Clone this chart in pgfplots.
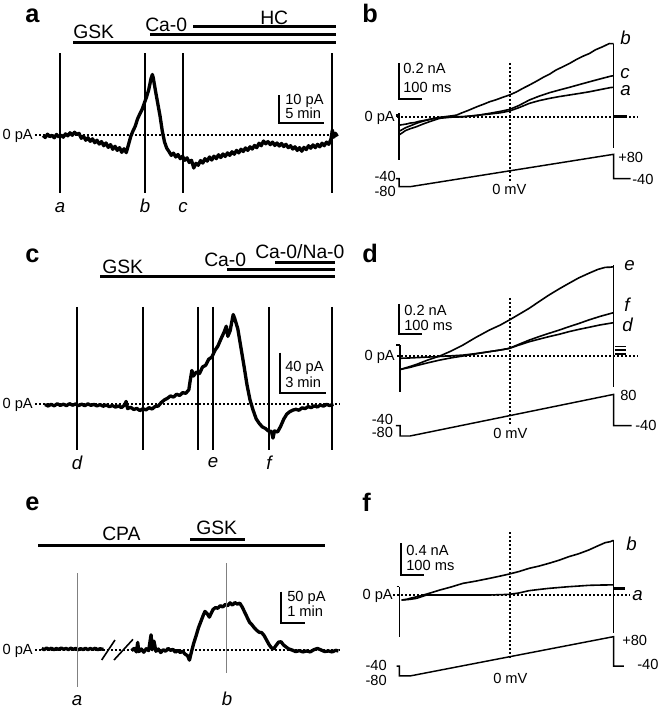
\documentclass[border=0pt]{standalone}
\usepackage{fontspec}
\setmainfont{Liberation Sans}
\usepackage{pgfplots}
\pgfplotsset{compat=1.18}

\pgfplotsset{
  panel/.style={anchor=south west, axis lines=none, ticks=none, clip=false},
  ctrace/.style={black, line width=2.5pt, line join=round},
  ivtrace/.style={black, line width=1.2pt, line join=round},
  zeroline/.style={black, line width=1.5pt, dash pattern=on 1.5pt off 1.5pt},
  tmark/.style={black, line width=1pt},
  sbar/.style={black, line width=1.5pt, line join=miter},
  vprot/.style={black, line width=1.1pt, line join=miter},
}
\newcommand\lab{\fontsize{11}{13}\selectfont}
\newcommand\drug{\fontsize{14.5}{17}\selectfont}
\newcommand\pan{\fontsize{19}{22}\selectfont\bfseries}
\newcommand\tp{\fontsize{14}{16}\selectfont\itshape}

\begin{document}
\begin{tikzpicture}[x=0.75pt, y=-0.75pt]
\useasboundingbox (0,0) rectangle (660,709);

% ================= panel a : time course (min, pA)
\begin{axis}[panel, at={(25.5pt,-146.625pt)}, x=6.75pt, y=2.0625pt,
  xmin=-1, xmax=33, ymin=-22, ymax=30]
\addplot[zeroline] coordinates {(-0.89,0) (32.78,0)};
\addplot[ctrace] coordinates {
 (0.00,-0.2) (0.25,-0.9) (0.50,0.3) (0.75,-0.6) (1.00,-0.1) (1.25,-1.0) (1.50,0.2) (1.75,-0.7)
 (2.00,0.0) (2.25,-0.8) (2.50,0.4) (2.75,-0.3) (3.00,0.8) (3.25,-0.1) (3.50,1.0) (3.75,0.2)
 (4.00,0.6) (4.25,-1.2) (4.50,-0.4) (4.75,-1.9) (5.00,-1.0) (5.25,-2.3) (5.50,-1.4) (5.75,-2.8)
 (6.00,-1.9) (6.25,-3.3) (6.50,-2.4) (6.75,-3.9) (7.00,-2.9) (7.25,-4.5) (7.50,-3.5) (7.75,-5.2)
 (8.00,-4.1) (8.25,-5.6) (8.50,-4.6) (8.75,-6.3) (9.00,-5.0) (9.25,-6.4) (9.50,-3.5) (9.75,-0.5)
 (10.00,1.5) (10.25,3.2) (10.50,5.8) (10.75,7.6) (11.00,9.2) (11.25,11.5) (11.50,13.8) (11.75,16.5)
 (12.00,20.5) (12.15,22.0) (12.25,20.8) (12.50,16.0) (12.75,11.5) (13.00,7.0) (13.25,1.5) (13.50,-2.5)
 (13.75,-4.8) (14.00,-6.0) (14.25,-7.4) (14.50,-6.6) (14.75,-8.0) (15.00,-7.1) (15.25,-8.6) (15.50,-7.7)
 (15.75,-9.2) (16.00,-8.3) (16.25,-10.0) (16.50,-9.2) (16.75,-12.0) (17.00,-10.3) (17.25,-11.0) (17.50,-9.3)
 (17.75,-10.2) (18.00,-8.6) (18.25,-9.5) (18.50,-8.0) (18.75,-9.1) (19.00,-7.7) (19.25,-8.6) (19.50,-7.2)
 (19.75,-8.2) (20.00,-6.9) (20.25,-7.8) (20.50,-6.5) (20.75,-7.4) (21.00,-6.1) (21.25,-7.0) (21.50,-5.6)
 (21.75,-6.5) (22.00,-5.2) (22.25,-6.0) (22.50,-4.7) (22.75,-5.6) (23.00,-4.3) (23.25,-5.1) (23.50,-3.8)
 (23.75,-4.6) (24.00,-3.0) (24.25,-3.9) (24.50,-2.2) (24.75,-3.2) (25.00,-2.4) (25.25,-3.5) (25.50,-2.6)
 (25.75,-3.8) (26.00,-2.9) (26.25,-4.0) (26.50,-3.1) (26.75,-4.2) (27.00,-3.4) (27.25,-4.6) (27.50,-3.9)
 (27.75,-5.1) (28.00,-4.3) (28.25,-5.6) (28.50,-4.6) (28.75,-5.9) (29.00,-4.5) (29.25,-5.3) (29.50,-3.9)
 (29.75,-4.8) (30.00,-3.6) (30.25,-4.6) (30.50,-3.4) (30.75,-4.3) (31.00,-3.0) (31.25,-3.9) (31.50,-2.6)
 (31.75,-3.4) (32.00,-1.5) (32.15,1.8) (32.30,-0.8) (32.50,0.6) (32.70,-0.5)
};
\addplot[tmark] coordinates {(1.89,29.8) (1.89,-21.1)};
\addplot[tmark] coordinates {(11.33,29.8) (11.33,-21.1)};
\addplot[tmark] coordinates {(15.56,29.8) (15.56,-21.1)};
\addplot[tmark] coordinates {(32.11,29.8) (32.11,-21.1)};
\addplot[sbar] coordinates {(26.26,14.5) (26.26,4.5) (31.26,4.5)};
\end{axis}

% ================= panel b : ramp currents (ms, pA)
\begin{axis}[panel, at={(295.6275pt,-136.92pt)}, x=0.16965pt, y=0.1335pt,
  xmin=-70, xmax=1010, ymin=-370, ymax=420]
\addplot[zeroline] coordinates {(-57,0) (1008,0)};
\addplot[zeroline] coordinates {(442,302) (442,-367)};
\addplot[ivtrace] coordinates {(-45,-47) (-30,-44) (-15,-41) (0,-36) (20,-33) (40,-26) (59,-22) (80,-16)
 (100,-11) (132,-4) (160,1) (185,5) (206,9) (230,22) (255,34) (279,47) (300,58) (325,70) (352,84)
 (380,95) (410,109) (440,122) (470,139) (500,160) (528,178) (560,200) (590,222) (617,239) (645,262)
 (675,280) (705,299) (735,321) (765,340) (793,355) (820,376) (850,392) (881,411) (900,410)};
\addplot[ivtrace] coordinates {(-45,-80) (-20,-62) (0,-52) (29,-37) (60,-24) (100,-12) (132,-4) (180,-1)
 (235,0) (290,6) (352,19) (400,30) (440,41) (480,62) (528,94) (570,115) (617,135) (660,150)
 (705,165) (750,181) (793,196) (840,212) (888,228) (900,230)};
\addplot[ivtrace] coordinates {(-45,-100) (-20,-78) (0,-68) (29,-56) (60,-40) (100,-22) (132,-9) (180,-3)
 (235,0) (290,7) (352,15) (400,22) (440,32) (480,50) (528,75) (570,90) (617,103) (660,113)
 (705,122) (750,131) (793,140) (840,152) (888,164) (900,165)};
\addplot[black, line width=2.2pt] coordinates {(-62,5) (-48,5)};
\addplot[ivtrace] coordinates {(-48,19) (-48,-243)};
\addplot[ivtrace] coordinates {(900,411) (900,-178)};
\addplot[black, line width=2.4pt] coordinates {(903,0) (960,0)};
\addplot[sbar] coordinates {(-48.6,300) (-48.6,100) (51.4,100)};
\end{axis}
\begin{axis}[panel, at={(295.6275pt,-141.544pt)}, x=0.16965pt, y=0.1519pt,
  xmin=-70, xmax=1000, ymin=-90, ymax=90]
\addplot[vprot] coordinates {(-62,-40) (-48,-40) (-48,-80) (0,-80) (900,80) (900,-40) (975,-40)};
\end{axis}

% ================= panel c : time course (min, pA)
\begin{axis}[panel, at={(22.275pt,-341.1375pt)}, x=11.475pt, y=0.76275pt,
  xmin=-1, xmax=20, ymin=-50, ymax=100]
\addplot[zeroline] coordinates {(-0.65,0) (19.28,0)};
\addplot[ctrace] coordinates {
 (0.0,-0.5) (0.2,-2.0) (0.4,-0.3) (0.6,-1.8) (0.8,0.2) (1.0,-1.4) (1.2,-0.2) (1.4,-1.6) (1.6,0.3)
 (1.8,-1.2) (2.0,0.0) (2.2,-1.5) (2.4,-0.2) (2.6,-1.7) (2.8,0.1) (3.0,-1.3) (3.2,-0.4) (3.4,-1.9)
 (3.6,-0.5) (3.8,-2.2) (4.0,-1.0) (4.2,-2.6) (4.4,-1.5) (4.6,-3.0) (4.8,-2.0) (5.0,-3.5) (5.2,-1.0)
 (5.3,2.5) (5.4,-4.5) (5.6,-3.2) (5.8,-5.4) (6.0,-4.3) (6.2,-6.5) (6.4,-4.6) (6.6,-5.8) (6.8,-3.6)
 (7.0,-4.9) (7.2,-2.4) (7.4,-2.0) (7.6,1.5) (7.8,4.0) (8.0,5.6) (8.2,7.9) (8.4,6.8) (8.6,9.6)
 (8.8,8.4) (9.0,11.2) (9.2,10.5) (9.4,14.0) (9.5,24.0) (9.6,33.0) (9.7,27.5) (9.9,31.5) (10.1,30.0)
 (10.3,36.5) (10.5,38.0) (10.7,44.0) (10.9,46.0) (11.1,52.5) (11.3,57.0) (11.5,64.0) (11.7,70.5)
 (11.85,76.5) (11.95,66.5) (12.1,72.0) (12.3,88.0) (12.4,84.0) (12.6,74.0) (12.8,56.0) (13.0,38.0)
 (13.2,19.0) (13.4,4.0) (13.6,-6.0) (13.8,-14.5) (14.0,-19.0) (14.2,-22.5) (14.4,-24.0) (14.6,-26.5)
 (14.8,-27.0) (14.9,-33.5) (15.0,-26.5) (15.2,-27.5) (15.4,-22.0) (15.6,-15.0) (15.8,-10.0) (16.0,-7.5)
 (16.2,-6.0) (16.4,-5.2) (16.6,-6.1) (16.8,-3.8) (17.0,-4.5) (17.2,-2.6) (17.4,-3.5) (17.6,-1.8)
 (17.8,-2.9) (18.0,-1.0) (18.2,-2.1) (18.4,-0.4) (18.6,-1.5) (18.85,-0.3)
};
\addplot[tmark] coordinates {(2.09,95.4) (2.09,-45.2)};
\addplot[tmark] coordinates {(6.41,95.4) (6.41,-45.2)};
\addplot[tmark] coordinates {(10.00,95.4) (10.00,-45.2)};
\addplot[tmark] coordinates {(10.98,95.4) (10.98,-45.2)};
\addplot[tmark] coordinates {(14.64,95.4) (14.64,-45.2)};
\addplot[tmark] coordinates {(18.76,95.4) (18.76,-45.2)};
\addplot[sbar] coordinates {(15.36,50.5) (15.36,10.5) (18.36,10.5)};
\end{axis}

% ================= panel d : ramp currents (ms, pA)
\begin{axis}[panel, at={(295.6275pt,-319.65pt)}, x=0.16965pt, y=0.1125pt,
  xmin=-70, xmax=1010, ymin=-470, ymax=620]
\addplot[zeroline] coordinates {(-57,0) (1008,0)};
\addplot[zeroline] coordinates {(442,385) (442,-462)};
\addplot[ivtrace] coordinates {(-41,-91) (0,-72) (29,-58) (80,-28) (132,-2) (180,30) (234,71) (290,121)
 (351,171) (400,205) (439,238) (480,274) (527,316) (570,360) (614,404) (660,446) (702,482)
 (745,518) (790,549) (830,575) (863,589) (885,590) (900,593)};
\addplot[ivtrace] coordinates {(-41,-91) (0,-78) (29,-66) (80,-47) (132,-29) (180,-15) (234,-2) (290,12)
 (351,27) (400,38) (439,49) (480,75) (527,104) (570,127) (614,149) (660,171) (702,193)
 (745,214) (790,238) (840,262) (900,287)};
\addplot[ivtrace] coordinates {(-41,-17) (0,-15) (29,-13) (80,-9) (132,-5) (180,-1) (234,4) (290,14)
 (351,27) (400,38) (439,49) (480,70) (527,93) (570,110) (614,127) (660,143) (702,160)
 (745,175) (790,189) (840,205) (900,220)};
\addplot[ivtrace] coordinates {(-60,71) (-44,71)};
\addplot[ivtrace] coordinates {(-44,71) (-44,-240)};
\addplot[ivtrace] coordinates {(900,604) (900,-207)};
\addplot[ivtrace] coordinates {(905,60) (955,60)};
\addplot[ivtrace] coordinates {(905,36) (955,36)};
\addplot[ivtrace] coordinates {(905,13) (955,13)};
\addplot[sbar] coordinates {(-48.6,345) (-48.6,145) (51.4,145)};
\end{axis}
\begin{axis}[panel, at={(295.6275pt,-328.95pt)}, x=0.16965pt, y=0.195pt,
  xmin=-70, xmax=1000, ymin=-90, ymax=90]
\addplot[vprot] coordinates {(-62,-40) (-44,-40) (-44,-80) (0,-80) (900,80) (900,-40) (980,-40)};
\end{axis}

% ================= panel e : time course with break (min, pA)
\begin{axis}[panel, at={(22.1625pt,-515.985pt)}, x=18.225pt, y=0.47475pt,
  xmin=-0.5, xmax=12.5, ymin=-60, ymax=140]
\addplot[zeroline] coordinates {(-0.28,0) (12.28,0)};
\addplot[ctrace] coordinates {
 (0.0,2.6) (0.1,0.6) (0.2,3.0) (0.3,1.0) (0.4,2.8) (0.5,0.5) (0.6,2.4) (0.7,0.9) (0.8,3.1) (0.9,1.2)
 (1.0,2.5) (1.1,0.7) (1.2,2.9) (1.3,1.0) (1.4,2.6) (1.5,0.4) (1.6,2.2) (1.7,0.8) (1.8,2.7) (1.9,0.6)
 (2.0,2.4) (2.1,0.9) (2.2,2.8) (2.3,0.5) (2.4,2.0) (2.54,1.0)
};
\addplot[ctrace] coordinates {
 (3.70,-1.0) (3.80,2.5) (3.90,-3.0) (3.95,12.0) (4.00,-2.5) (4.10,1.5) (4.20,-3.5) (4.30,2.0)
 (4.40,-1.0) (4.50,24.0) (4.55,0.5) (4.62,14.0) (4.70,-2.0) (4.80,1.5) (4.90,-4.0) (5.00,0.5)
 (5.10,-2.0) (5.20,2.5) (5.30,-0.5) (5.40,1.0) (5.50,-3.5) (5.60,-0.5) (5.70,-4.0) (5.80,-2.0)
 (5.90,-6.5) (6.00,-9.0) (6.08,-16.0) (6.15,-5.0) (6.25,10.0) (6.35,22.0) (6.45,35.0) (6.55,45.0)
 (6.65,55.0) (6.72,61.0) (6.80,58.0) (6.90,52.0) (6.95,56.0) (7.05,64.0) (7.15,67.0) (7.25,66.0)
 (7.35,70.0) (7.45,68.0) (7.55,72.0) (7.65,70.0) (7.75,74.5) (7.85,71.0) (7.95,75.0) (8.05,72.5)
 (8.15,74.0) (8.25,68.0) (8.35,60.0) (8.45,52.0) (8.55,44.0) (8.65,40.0) (8.75,35.0) (8.85,31.0)
 (8.95,28.0) (9.05,27.5) (9.15,23.0) (9.25,16.0) (9.35,9.0) (9.45,3.5) (9.55,2.0) (9.65,7.5)
 (9.75,12.5) (9.85,13.0) (9.95,8.0) (10.05,5.0) (10.15,2.0) (10.30,0.0) (10.45,-2.5) (10.60,-1.0)
 (10.75,-3.0) (10.90,-1.5) (11.05,-3.0) (11.20,0.5) (11.35,2.5) (11.50,0.0) (11.65,-2.5) (11.80,-1.5)
 (11.95,-3.0) (12.10,-0.5) (12.21,-1.5)
};
\addplot[gray, line width=0.6pt] coordinates {(1.45,121.6) (1.45,-58.5)};
\addplot[gray, line width=0.6pt] coordinates {(7.62,137.4) (7.62,-36.3)};
\addplot[sbar] coordinates {(9.85,92.1) (9.85,42.1) (10.85,42.1)};
\end{axis}

% ================= panel f : ramp currents (ms, pA)
\begin{axis}[panel, at={(293.925pt,-495.555pt)}, x=0.16965pt, y=0.0594pt,
  xmin=-80, xmax=1010, ymin=-830, ymax=800]
\addplot[zeroline] coordinates {(-75,0) (973,0)};
\addplot[zeroline] coordinates {(442,795) (442,-821)};
\addplot[ivtrace] coordinates {(-37,-63) (-15,-55) (0,-42) (30,-22) (59,0) (95,30) (132,63) (180,100)
 (234,147) (290,175) (351,210) (400,240) (439,265) (480,295) (527,337) (570,365) (614,400)
 (660,440) (702,484) (745,520) (790,568) (830,620) (863,661) (885,673) (900,690)};
\addplot[ivtrace] coordinates {(-37,-63) (0,-55) (29,-42) (73,0) (132,0) (234,0) (351,0) (439,8)
 (480,25) (527,55) (570,70) (614,84) (660,95) (702,105) (745,113) (790,122) (845,126) (900,128)};
\addplot[ivtrace] coordinates {(-59,105) (-47,105)};
\addplot[ivtrace] coordinates {(-47,105) (-47,-526)};
\addplot[ivtrace] coordinates {(900,690) (900,-484)};
\addplot[black, line width=1.8pt] coordinates {(903,84) (950,84)};
\addplot[sbar] coordinates {(-39.8,652.5) (-39.8,252.5) (60.2,252.5)};
\end{axis}
\begin{axis}[panel, at={(295.6275pt,-508.815pt)}, x=0.16965pt, y=0.18435pt,
  xmin=-70, xmax=1000, ymin=-90, ymax=90]
\addplot[vprot] coordinates {(-59,-40) (-47,-40) (-47,-80) (0,-80) (900,80) (900,-40) (945,-40)};
\end{axis}

% ================= solution bars and text
\begin{scope}[line width=2.25pt]
\draw (73,42.3) -- (336,42.3);
\draw (150,34.3) -- (336,34.3);
\draw (193,26.7) -- (336,26.7);
\draw (100,276.7) -- (335,276.7);
\draw (227,269) -- (335,269);
\draw (275,262.3) -- (335,262.3);
\draw (38,545.7) -- (325,545.7);
\draw (190,539.3) -- (245,539.3);
\end{scope}
\draw[line width=1.2pt] (101.7,660) -- (115,640);
\draw[line width=1.2pt] (114,660) -- (133,639.3);

\begin{scope}[every node/.style={inner sep=0pt}]
% panel letters
\node[anchor=base west] at (25,23) {\pan a};
\node[anchor=base west] at (362,23) {\pan b};
\node[anchor=base west] at (25,262) {\pan c};
\node[anchor=base west] at (362,262) {\pan d};
\node[anchor=base west] at (25,510) {\pan e};
\node[anchor=base west] at (362,511.7) {\pan f};
% drugs
\node[anchor=base west] at (73,38.3) {\drug GSK};
\node[anchor=base west] at (145,31.7) {\drug Ca-0};
\node[anchor=base west] at (260,25) {\drug HC};
\node[anchor=base west] at (102,273.3) {\drug GSK};
\node[anchor=base west] at (204,266.7) {\drug Ca-0};
\node[anchor=base west] at (255,258.3) {\drug Ca-0/Na-0};
\node[anchor=base west] at (102,540) {\drug CPA};
\node[anchor=base west] at (196,534) {\drug GSK};
% scale bar labels
\node[anchor=base west] at (285,105) {\lab 10 pA};
\node[anchor=base west] at (285,118.3) {\lab 5 min};
\node[anchor=base west] at (403,74) {\lab 0.2 nA};
\node[anchor=base west] at (403,93) {\lab 100 ms};
\node[anchor=base west] at (285,371.7) {\lab 40 pA};
\node[anchor=base west] at (285,387) {\lab 3 min};
\node[anchor=base west] at (404,315) {\lab 0.2 nA};
\node[anchor=base west] at (404,330) {\lab 100 ms};
\node[anchor=base west] at (287,601.7) {\lab 50 pA};
\node[anchor=base west] at (287,616.7) {\lab 1 min};
\node[anchor=base west] at (406,555) {\lab 0.4 nA};
\node[anchor=base west] at (406,570) {\lab 100 ms};
% zero labels
\node[anchor=base east] at (33,139.5) {\lab 0 pA};
\node[anchor=base east] at (395,121.2) {\lab 0 pA};
\node[anchor=base east] at (33,408.5) {\lab 0 pA};
\node[anchor=base east] at (395,360.2) {\lab 0 pA};
\node[anchor=base east] at (33,654.5) {\lab 0 pA};
\node[anchor=base east] at (393,599.5) {\lab 0 pA};
% time-point letters
\node[anchor=base] at (60,213) {\tp a};
\node[anchor=base] at (145,213) {\tp b};
\node[anchor=base] at (183,213) {\tp c};
\node[anchor=base] at (77,469) {\tp d};
\node[anchor=base] at (213,467) {\tp e};
\node[anchor=base] at (269,469) {\tp f};
\node[anchor=base] at (77,705) {\tp a};
\node[anchor=base] at (227,705) {\tp b};
\node[anchor=base west] at (620,45) {\tp b};
\node[anchor=base west] at (620,79) {\tp c};
\node[anchor=base west] at (620,96) {\tp a};
\node[anchor=base west] at (624,270) {\tp e};
\node[anchor=base west] at (624,311.7) {\tp f};
\node[anchor=base west] at (622,331.7) {\tp d};
\node[anchor=base west] at (626,550) {\tp b};
\node[anchor=base west] at (632,600) {\tp a};
% voltage labels
\node[anchor=base west] at (618,163) {\lab +80};
\node[anchor=base west] at (632,185) {\lab -40};
\node[anchor=base east] at (396,182) {\lab -40};
\node[anchor=base east] at (396,196) {\lab -80};
\node[anchor=base west] at (492,195) {\lab 0 mV};
\node[anchor=base west] at (620,400.7) {\lab 80};
\node[anchor=base west] at (635,430.5) {\lab -40};
\node[anchor=base east] at (393.3,424) {\lab -40};
\node[anchor=base east] at (393.3,437) {\lab -80};
\node[anchor=base west] at (493,438) {\lab 0 mV};
\node[anchor=base west] at (622,645) {\lab +80};
\node[anchor=base west] at (637,669) {\lab -40};
\node[anchor=base east] at (387,670.7) {\lab -40};
\node[anchor=base east] at (387,685) {\lab -80};
\node[anchor=base west] at (493,683) {\lab 0 mV};
\end{scope}
\end{tikzpicture}
\end{document}
